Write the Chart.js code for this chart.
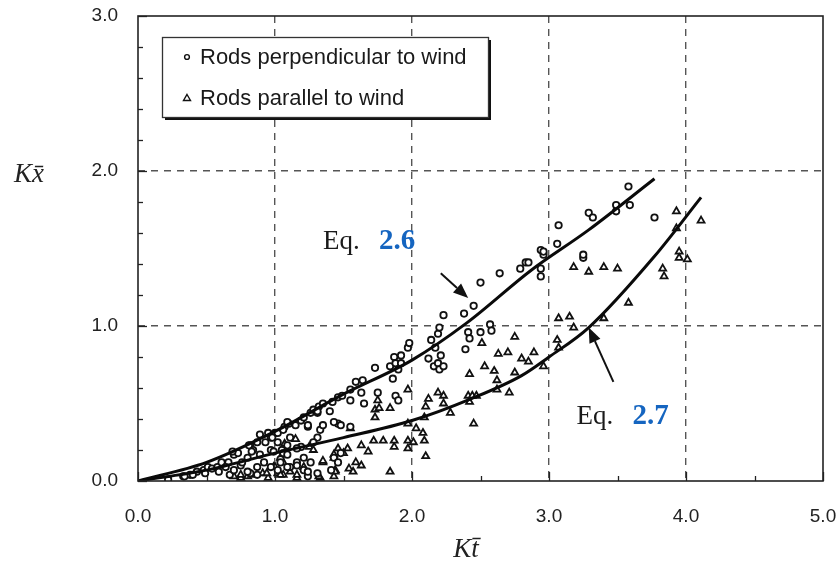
<!DOCTYPE html>
<html>
<head>
<meta charset="utf-8">
<script src="https://cdn.jsdelivr.net/npm/chart.js@4/dist/chart.umd.min.js"></script>
<style>
  html, body { margin: 0; padding: 0; background: #fff; }
  canvas { display: block; }
</style>
</head>
<body>
<canvas id="c" width="840" height="563"></canvas>
<script>
// Measured points: rods set perpendicular to the wind (Kt, Kx)
const perpendicularPoints = [
  [0.22,0.01],[0.33,0.03],[0.38,0.04],[0.43,0.06],[0.48,0.07],[0.51,0.09],[0.54,0.08],[0.58,0.09],
  [0.61,0.12],[0.66,0.12],[0.67,0.04],[0.70,0.07],[0.70,0.17],[0.73,0.18],[0.75,0.10],[0.80,0.15],
  [0.82,0.23],[0.82,0.05],[0.84,0.20],[0.87,0.25],[0.87,0.09],[0.89,0.17],[0.92,0.12],[0.93,0.25],
  [0.97,0.20],[0.97,0.09],[0.97,0.28],[1.00,0.31],[1.04,0.14],[1.05,0.20],[1.07,0.35],[1.10,0.37],
  [0.99,0.19],[1.02,0.07],[1.02,0.25],[1.02,0.31],[1.04,0.12],[1.06,0.18],[1.06,0.33],[1.09,0.23],
  [1.09,0.38],[1.11,0.09],[1.11,0.28],[1.15,0.36],[1.16,0.12],[1.19,0.22],[1.19,0.39],[1.21,0.07],
  [1.21,0.15],[1.21,0.41],[1.24,0.03],[1.24,0.35],[1.26,0.12],[1.26,0.44],[1.28,0.46],[1.31,0.05],
  [1.31,0.28],[1.31,0.44],[1.32,0.48],[1.33,0.33],[1.35,0.50],[1.41,0.07],[1.42,0.51],[1.43,0.15],
  [1.46,0.12],[1.46,0.37],[1.46,0.54],[1.48,0.18],[1.48,0.36],[1.49,0.55],[1.55,0.35],[1.55,0.52],
  [1.55,0.59],[1.59,0.64],[1.63,0.57],[1.64,0.65],[1.65,0.50],[1.73,0.73],[1.75,0.57],[1.84,0.74],
  [1.86,0.66],[1.87,0.80],[1.88,0.55],[1.88,0.76],[1.90,0.52],[1.90,0.72],[1.92,0.81],
  [1.92,0.76],[1.97,0.86],[1.98,0.89],[2.12,0.79],[2.14,0.91],[2.16,0.74],[2.17,0.86],[2.19,0.76],
  [2.19,0.95],[2.20,0.72],[2.20,0.99],[2.21,0.81],[2.23,0.74],[2.23,1.07],[2.38,1.08],[2.39,0.85],
  [2.41,0.96],[2.42,0.92],[2.45,1.13],[2.50,0.96],[2.50,1.28],[2.57,1.01],[2.58,0.97],[2.64,1.34],
  [2.79,1.37],[2.83,1.41],[2.94,1.32],[2.94,1.49],
  [2.85,1.41],[2.94,1.37],[2.96,1.46],[2.96,1.48],[3.06,1.53],[3.07,1.65],[3.25,1.44],[3.25,1.46],
  [3.29,1.73],[3.32,1.70],[3.49,1.74],[3.49,1.78],[3.58,1.90],[3.59,1.78],[3.77,1.70],
  [0.34,0.03],[0.40,0.04],[0.49,0.05],[0.59,0.06],[0.64,0.09],[0.69,0.19],[0.76,0.12],[0.81,0.23],
  [0.83,0.19],[0.89,0.30],[0.95,0.31],[0.98,0.28],[1.09,0.17],[1.16,0.21],[1.09,0.09],[1.16,0.10],
  [1.24,0.36],[1.28,0.25],[1.35,0.36],[1.31,0.45],[1.40,0.45],[1.43,0.38],[1.24,0.06],[0.80,0.06],
  [0.87,0.04]
];

// Measured points: rods set parallel to the wind (Kt, Kx)
const parallelPoints = [
  [0.70,0.03],[0.75,0.02],[0.80,0.03],[0.83,0.04],[0.91,0.05],[0.95,0.02],[0.99,0.09],[1.00,0.09],
  [1.02,0.05],[1.04,0.15],[1.06,0.04],[1.06,0.12],[1.07,0.24],[1.15,0.27],[1.16,0.02],[1.21,0.09],
  [1.25,0.22],[1.28,0.20],[1.33,0.02],[1.35,0.12],[1.43,0.03],[1.43,0.15],[1.44,0.07],[1.46,0.21],
  [1.50,0.18],[1.53,0.21],[1.54,0.08],[1.55,0.34],[1.59,0.12],[1.63,0.10],[1.63,0.23],[1.68,0.19],
  [1.72,0.26],[1.73,0.41],[1.73,0.46],[1.75,0.52],[1.76,0.47],[1.79,0.26],[1.84,0.06],[1.84,0.47],
  [1.87,0.22],[1.87,0.26],[1.97,0.26],
  [1.97,0.21],[1.97,0.37],[1.97,0.59],[2.01,0.25],[2.03,0.34],[2.08,0.31],[2.09,0.26],[2.09,0.41],
  [2.10,0.16],[2.10,0.48],[2.12,0.53],[2.19,0.57],[2.23,0.50],[2.23,0.55],[2.28,0.44],[2.41,0.55],
  [2.42,0.51],[2.42,0.69],[2.44,0.55],[2.47,0.55],[2.45,0.37],[2.51,0.89],[2.53,0.74],[2.60,0.71],
  [2.62,0.59],[2.62,0.65],[2.63,0.82],[2.70,0.83],[2.71,0.57],[2.75,0.70],[2.75,0.93],
  [2.80,0.79],[2.85,0.77],[2.89,0.83],[2.96,0.74],[3.06,0.91],[3.07,0.86],[3.07,1.05],[3.15,1.06],
  [3.18,0.99],[3.18,1.38],[3.29,1.35],[3.40,1.05],[3.40,1.38],[3.50,1.37],[3.58,1.15],[3.84,1.32],
  [3.83,1.37],[3.93,1.74],[3.93,1.63],[3.95,1.48],[3.95,1.44],[4.01,1.43],[4.11,1.68],
  [1.35,0.13],[1.43,0.17],[1.44,0.06],[1.57,0.06],[0.94,0.05],[1.04,0.04],[0.75,0.04],[1.16,0.04],
  [1.32,0.03],[1.11,0.06]
];

// Eq. 2.6 curve (perpendicular rods)
const eq26X = [0, 0.5, 1.0, 1.5, 2.0, 2.4, 2.87, 3.29, 3.77];
const eq26Y = [0, 0.12, 0.32, 0.56, 0.78, 1.02, 1.36, 1.62, 1.95];

// Eq. 2.7 curve (parallel rods)
const eq27X = [0, 0.5, 1.0, 1.5, 2.0, 2.43, 2.8, 3.0, 3.29, 3.77, 4.11];
const eq27Y = [0, 0.07, 0.18, 0.28, 0.39, 0.53, 0.68, 0.80, 0.99, 1.45, 1.83];

// Axis ranges and labelled ticks
const xTickLabels = ['0.0', '1.0', '2.0', '3.0', '4.0', '5.0'];
const yTickLabels = ['0.0', '1.0', '2.0', '3.0'];

const legendLabels = ['Rods perpendicular to wind', 'Rods parallel to wind'];
const eqLabels = [
  { eq: 'Eq.', num: '2.6', x: 1.35, y: 1.50, tail: [2.21, 1.34], head: [2.41, 1.18] },
  { eq: 'Eq.', num: '2.7', x: 3.20, y: 0.37, tail: [3.47, 0.64], head: [3.29, 0.99] }
];

const SANS = '"Liberation Sans", Arial, sans-serif';
const SERIF = '"Liberation Serif", "Times New Roman", serif';

const isWhole = v => Math.abs(v - Math.round(v)) < 1e-6;
const toPts = (xs, ys) => xs.map((x, i) => ({ x, y: ys[i] }));

function arrow(ctx, x1, y1, x2, y2) {
  const a = Math.atan2(y2 - y1, x2 - x1);
  const len = 15, half = 6;
  const bx = x2 - len * Math.cos(a), by = y2 - len * Math.sin(a);
  ctx.beginPath();
  ctx.moveTo(x1, y1);
  ctx.lineTo(bx, by);
  ctx.lineWidth = 2;
  ctx.strokeStyle = '#111';
  ctx.stroke();
  ctx.beginPath();
  ctx.moveTo(x2, y2);
  ctx.lineTo(bx + half * Math.sin(a), by - half * Math.cos(a));
  ctx.lineTo(bx - half * Math.sin(a), by + half * Math.cos(a));
  ctx.closePath();
  ctx.fillStyle = '#111';
  ctx.fill();
}

const overlay = {
  id: 'overlay',
  afterDraw(chart) {
    const { ctx, chartArea: ca, scales: { x, y } } = chart;
    ctx.save();

    // inner tick marks along the bottom and left axes
    ctx.strokeStyle = '#222';
    ctx.lineWidth = 1.3;
    x.ticks.forEach(t => {
      const px = Math.round(x.getPixelForValue(t.value)) + 0.5;
      const l = isWhole(t.value) ? 9 : 5;
      ctx.beginPath(); ctx.moveTo(px, ca.bottom); ctx.lineTo(px, ca.bottom - l); ctx.stroke();
    });
    y.ticks.forEach(t => {
      const py = Math.round(y.getPixelForValue(t.value)) + 0.5;
      const l = isWhole(t.value) ? 9 : 5;
      ctx.beginPath(); ctx.moveTo(ca.left, py); ctx.lineTo(ca.left + l, py); ctx.stroke();
    });

    // plot frame
    ctx.lineWidth = 1.6;
    ctx.strokeStyle = '#222';
    ctx.strokeRect(ca.left, ca.top, ca.right - ca.left, ca.bottom - ca.top);

    // equation labels with arrows
    eqLabels.forEach(e => {
      const lx = x.getPixelForValue(e.x), ly = y.getPixelForValue(e.y);
      ctx.textBaseline = 'alphabetic';
      ctx.textAlign = 'left';
      ctx.font = '27px ' + SERIF;
      ctx.fillStyle = '#1a1a1a';
      ctx.fillText(e.eq, lx, ly);
      ctx.font = 'bold 29px ' + SERIF;
      ctx.fillStyle = '#1565c0';
      ctx.fillText(e.num, lx + 56, ly);
      arrow(ctx, x.getPixelForValue(e.tail[0]), y.getPixelForValue(e.tail[1]),
                 x.getPixelForValue(e.head[0]), y.getPixelForValue(e.head[1]));
    });

    // legend box with drop shadow
    const bx = 162, by = 37, bw = 326, bh = 80;
    ctx.fillStyle = '#111';
    ctx.fillRect(bx + 3, by + 3, bw, bh);
    ctx.fillStyle = '#fff';
    ctx.fillRect(bx, by, bw, bh);
    ctx.lineWidth = 1.3;
    ctx.strokeStyle = '#333';
    ctx.strokeRect(bx + 0.5, by + 0.5, bw, bh);

    const rows = [57, 98];
    ctx.font = '22px ' + SANS;
    ctx.textBaseline = 'middle';
    ctx.textAlign = 'left';
    chart.data.datasets.filter(d => d.legend).forEach((d, i) => {
      const my = rows[i];
      ctx.lineWidth = 1.4;
      ctx.strokeStyle = '#111';
      ctx.fillStyle = '#fff';
      if (d.pointStyle === 'circle') {
        ctx.beginPath(); ctx.arc(187, my, 2.4, 0, Math.PI * 2); ctx.fill(); ctx.stroke();
      } else {
        ctx.beginPath();
        ctx.moveTo(187, my - 3.5); ctx.lineTo(190.5, my + 2.5); ctx.lineTo(183.5, my + 2.5);
        ctx.closePath(); ctx.fill(); ctx.stroke();
      }
      ctx.fillStyle = '#1a1a1a';
      ctx.fillText(d.label, 200, my + 1);
    });

    // axis titles
    ctx.fillStyle = '#222';
    ctx.font = 'italic 27px ' + SERIF;
    ctx.textAlign = 'center';
    ctx.textBaseline = 'alphabetic';
    ctx.fillText('Kx\u0304', 29, 182);
    ctx.fillText('Kt\u0304', 466, 557);

    ctx.restore();
  }
};

new Chart(document.getElementById('c'), {
  type: 'scatter',
  data: {
    datasets: [
      {
        type: 'line', label: 'Eq. 2.6', data: toPts(eq26X, eq26Y), order: 0,
        borderColor: '#0a0a0a', borderWidth: 3, pointRadius: 0, fill: false,
        showLine: true, cubicInterpolationMode: 'monotone'
      },
      {
        type: 'line', label: 'Eq. 2.7', data: toPts(eq27X, eq27Y), order: 0,
        borderColor: '#0a0a0a', borderWidth: 3, pointRadius: 0, fill: false,
        showLine: true, cubicInterpolationMode: 'monotone'
      },
      {
        label: legendLabels[0], legend: true, order: 1,
        data: perpendicularPoints.map(([px, py]) => ({ x: px, y: py })),
        pointStyle: 'circle', pointRadius: 3.2, borderWidth: 1.8,
        borderColor: '#111', backgroundColor: '#fff'
      },
      {
        label: legendLabels[1], legend: true, order: 1,
        data: parallelPoints.map(([px, py]) => ({ x: px, y: py })),
        pointStyle: 'triangle', pointRadius: 4, borderWidth: 1.8,
        borderColor: '#111', backgroundColor: '#fff'
      }
    ]
  },
  options: {
    responsive: false,
    animation: false,
    devicePixelRatio: 1,
    layout: { padding: { top: 16, right: 17, left: 0, bottom: 0 } },
    plugins: { legend: { display: false }, tooltip: { enabled: false } },
    scales: {
      x: {
        type: 'linear', min: 0, max: 5,
        afterFit: s => { s.height = 82; s.paddingLeft = 0; s.paddingRight = 0; },
        ticks: {
          stepSize: 0.5, autoSkip: false, maxRotation: 0, padding: 24,
          color: '#222', font: { family: SANS, size: 19 },
          callback: v => isWhole(v) ? xTickLabels[Math.round(v)] : ''
        },
        grid: {
          drawTicks: false, lineWidth: 1.4,
          color: c => (c.tick && isWhole(c.tick.value) && c.tick.value > 0 && c.tick.value < 5) ? '#555' : 'rgba(0,0,0,0)'
        },
        border: { display: false, dash: [7, 6] }
      },
      y: {
        type: 'linear', min: 0, max: 3,
        afterFit: s => { s.width = 138; s.paddingTop = 0; s.paddingBottom = 0; },
        ticks: {
          stepSize: 0.2, autoSkip: false, padding: 20,
          color: '#222', font: { family: SANS, size: 19 },
          callback: v => isWhole(v) ? yTickLabels[Math.round(v)] : ''
        },
        grid: {
          drawTicks: false, lineWidth: 1.4,
          color: c => (c.tick && isWhole(c.tick.value) && c.tick.value > 0 && c.tick.value < 3) ? '#555' : 'rgba(0,0,0,0)'
        },
        border: { display: false, dash: [7, 6] }
      }
    }
  },
  plugins: [overlay]
});
</script>
</body>
</html>
